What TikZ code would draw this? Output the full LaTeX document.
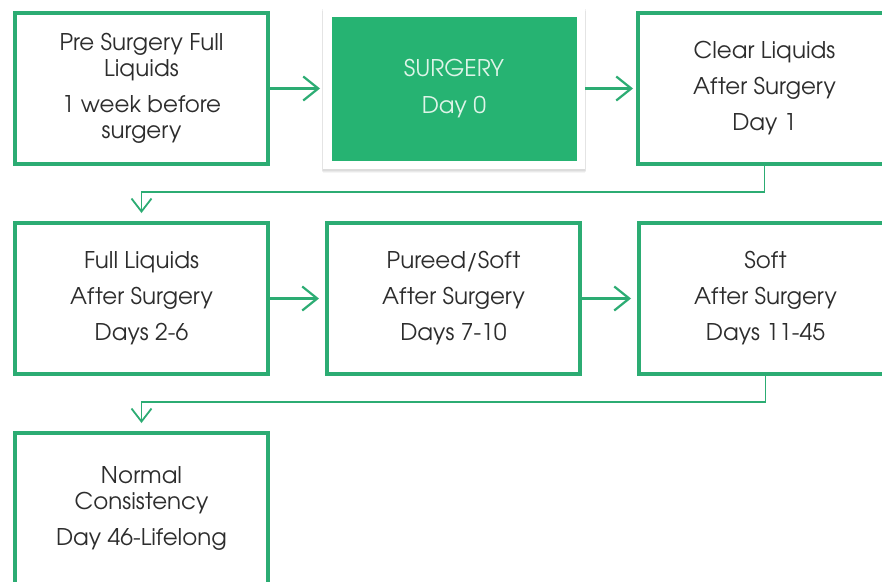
\documentclass[tikz,border=0pt]{standalone}
\usepackage{fontspec}
\setmainfont{TeX Gyre Adventor}
\usetikzlibrary{arrows.meta, positioning, shadows}
\definecolor{stagegreen}{RGB}{44,172,115}
\definecolor{surgeryfill}{RGB}{38,179,114}
\definecolor{stagetext}{RGB}{45,45,45}
\definecolor{surgerytext}{RGB}{222,244,232}
\newcommand{\stagefont}{\fontsize{23}{26}\selectfont}
\tikzset{
    stage/.style={rectangle, draw=stagegreen, line width=4pt, fill=white, minimum width=253pt, minimum height=151pt, outer sep=0pt, align=center, text=stagetext, font=\stagefont},
    card/.style={rectangle, fill=white, minimum width=262pt, minimum height=160pt, outer sep=0pt,
        drop shadow={shadow xshift=0pt, shadow yshift=-1.5pt, shadow scale=1.01, opacity=0.12},
        drop shadow={shadow xshift=0pt, shadow yshift=-3pt, shadow scale=1.005, opacity=0.1},
        drop shadow={shadow xshift=0pt, shadow yshift=-4.5pt, opacity=0.08}},
    surgerybox/.style={rectangle, fill=surgeryfill, minimum width=245pt, minimum height=144pt, align=center, text=surgerytext, font=\stagefont},
    arrow/.style={-{Straight Barb[length=15pt, width=24pt]}, draw=stagegreen, line width=2.2pt, shorten >=8pt},
    elbow/.style={-{Straight Barb[length=13pt, width=20pt]}, draw=stagegreen, line width=1.8pt, shorten >=10pt},
}
\begin{document}
\begin{tikzpicture}[x=1pt, y=1pt, node distance=59pt and 59pt]
        \useasboundingbox (0,0) rectangle (882,-581);
        \node[stage] (pre) at (141.5,-88.5) {Pre Surgery Full\\Liquids\\[10pt]1 week before\\surgery};
        \node[card, right=55pt of pre] (card) {};
        \node[surgerybox] (surgery) at (card) {SURGERY\\[11pt]Day 0};
        \node[stage, right=53pt of card] (clear) {Clear Liquids\\[10pt]After Surgery\\[10pt]Day 1};

        \node[stage, below=of pre] (full) {Full Liquids\\[10pt]After Surgery\\[10pt]Days 2-6};
        \node[stage, right=of full] (pureed) {Pureed/Soft\\[10pt]After Surgery\\[10pt]Days 7-10};
        \node[stage, right=of pureed] (soft) {Soft\\[10pt]After Surgery\\[10pt]Days 11-45};

        \node[stage, below=of full] (normal) {Normal\\Consistency\\[10pt]Day 46-Lifelong};

        \draw[arrow, shorten >=3pt] (pre) -- (card);
        \draw[arrow, shorten >=5pt] (card) -- (clear);
        \draw[elbow] (clear.south) -- ++(0,-28) -| (full.north);
        \draw[arrow] (full) -- (pureed);
        \draw[arrow] (pureed) -- (soft);
        \draw[elbow] (soft.south) -- ++(0,-28) -| (normal.north);
    \end{tikzpicture}
\end{document}
